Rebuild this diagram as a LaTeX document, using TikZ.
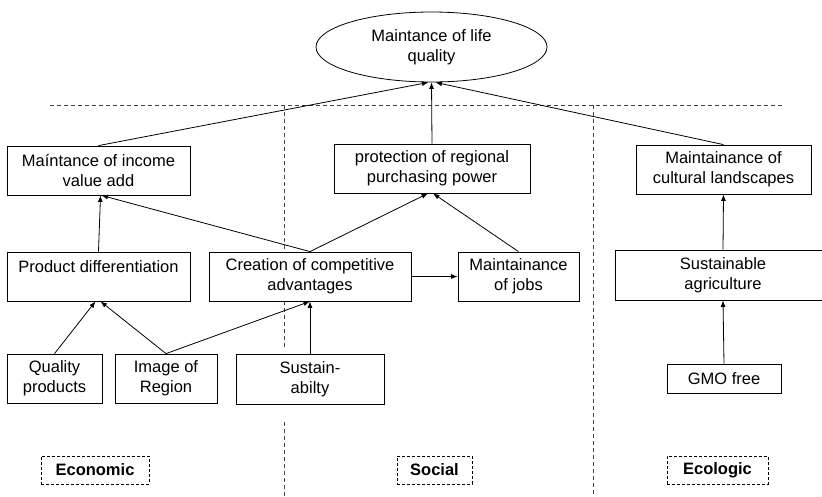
\documentclass[tikz,border=0pt]{standalone}
\usepackage{fontspec}
\setmainfont{Liberation Sans}
\usetikzlibrary{
        arrows.meta,
        positioning,
        shapes.geometric
    }
\tikzset{>={Latex[length=6.5pt,width=5pt]},auto}

\begin{document}
\begin{tikzpicture}[x=1pt,y=-1pt,line width=0.8pt,
                    every node/.style={font=\fontsize{16.5}{20}\selectfont}]
                    \tikzset{goal/.style={draw,fill=white,align=center,inner sep=0pt}}
                    \tikzset{pillar/.style={draw,dashed,dash pattern=on 3pt off 2pt,inner sep=0pt,
                                            minimum height=28pt,font=\bfseries\fontsize{16.5}{20}\selectfont}}
                    \tikzset{sep/.style={draw=black!75,dash pattern=on 4pt off 3pt}}

                        \clip (0,0) rectangle (822,496);

                        % dimension borders
                        \draw[sep] (50,105) -- (783,105);
                        \draw[sep] (284,105) -- (284,348);
                        \draw[sep] (284,422) -- (284,496);
                        \draw[sep] (593,105) -- (593,496);

                        \node[goal,ellipse,minimum width=231pt,minimum height=70pt] (life) at (431.5,47) {Maintance of life\\quality};

                        \node[goal,minimum width=183pt,minimum height=49pt] (income) at (98.5,170.5) {Maíntance of income\\value add};
                        \node[goal,minimum width=196pt,minimum height=49pt] (power) at (432,168.5) {protection of regional\\purchasing power};
                        \node[goal,minimum width=175pt,minimum height=49pt] (landscape) at (723.5,169.5) {Maintainance of\\cultural landscapes};

                        \node[goal,minimum width=183pt,minimum height=49pt] (diff) at (98.5,276.5) {Product differentiation\\\mbox{}};
                        \node[goal,minimum width=202pt,minimum height=49pt] (compet) at (310,276.5) {Creation of competitive\\advantages};
                        \node[goal,minimum width=121pt,minimum height=49pt] (jobs) at (518.5,276.5) {Maintainance\\of jobs};
                        % cut off by the right border
                        \node[goal,minimum width=216pt,minimum height=50pt] (agri) at (723,275) {Sustainable\\agriculture};

                        \node[goal,minimum width=95pt,minimum height=49pt] (quality) at (54.5,378.5) {Quality\\products};
                        \node[goal,minimum width=102pt,minimum height=49pt] (image) at (166,378.5) {Image of\\Region};
                        \node[goal,minimum width=148pt,minimum height=50pt] (sustain) at (310,379) {Sustain-\\abilty};
                        \node[goal,minimum width=114pt,minimum height=29pt] (gmo) at (724,378.5) {GMO free};

                        \node[pillar,minimum width=108pt] (eco) at (95,470) {Economic};
                        \node[pillar,minimum width=75pt] (soc) at (434.5,470) {Social};
                        \node[pillar,minimum width=101pt] (ecol) at (717.5,470) {Ecologic};

                    \path[->]
                            (income.north) edge ([xshift=-3pt]life.south)
                            (power.north) edge (life.south)
                            (landscape.north) edge ([xshift=4pt]life.south)
                            (diff.north) edge ([xshift=2pt]income.south)
                            (compet.north) edge ([xshift=3pt]income.south)
                            (compet.north) edge ([xshift=-4pt]power.south)
                            (jobs.north) edge ([xshift=1pt]power.south)
                            (compet.east) edge (jobs.west)
                            (agri.north) edge (landscape.south)
                            (quality.north) edge ([xshift=-3pt]diff.south)
                            (image.north) edge ([xshift=2pt]diff.south)
                            (image.north) edge (compet.south)
                            (sustain.north) edge (compet.south)
                            (gmo.north) edge (agri.south)
                            ;
            \end{tikzpicture}
\end{document}
